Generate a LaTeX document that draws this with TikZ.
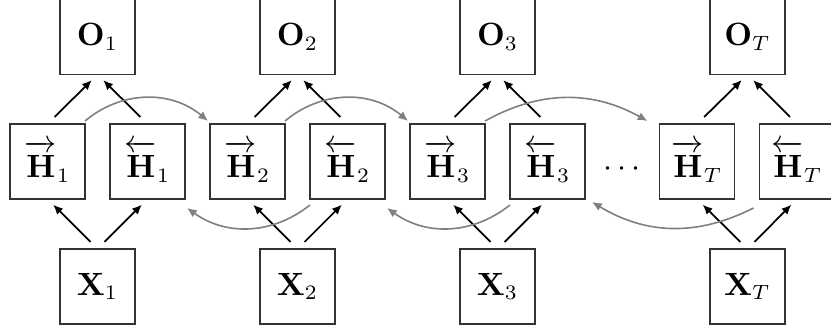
\documentclass[tikz,border=0pt]{standalone}
\usetikzlibrary{arrows.meta}
\newlength\pxu
\setlength\pxu{0.34pt}
\newcommand{\fwd}[1]{\overrightarrow{\mathbf{H}\rule{0pt}{9.6pt}}_{#1}}
\newcommand{\bwd}[1]{\overleftarrow{\mathbf{H}\rule{0pt}{9.6pt}}_{#1}}
\begin{document}
\begin{tikzpicture}[x=\pxu,y=\pxu,
  cell/.style={draw=black!80,line width=0.55pt,minimum width=75\pxu,minimum height=75\pxu,inner sep=0pt,outer sep=0pt,font=\fontsize{10.5}{12}\selectfont},
  feed/.style={-{Latex[length=3.3pt,width=2.9pt]},line width=0.6pt,shorten <=10\pxu,shorten >=8\pxu},
  rec/.style={-{Latex[length=3.3pt,width=2.9pt]},gray,line width=0.55pt}]
\useasboundingbox (0,0) rectangle (831,328);
% outputs
\node[cell] (O1) at (97.5,291) {$\mathbf{O}_1$};
\node[cell] (O2) at (297.5,291) {$\mathbf{O}_2$};
\node[cell] (O3) at (497.5,291) {$\mathbf{O}_3$};
\node[cell] (OT) at (747.5,291) {$\mathbf{O}_T$};
% hidden
\node[cell] (Hf1) at (47.5,166.5) {$\fwd{1}$};
\node[cell] (Hb1) at (147.5,166.5) {$\bwd{1}$};
\node[cell] (Hf2) at (247.5,166.5) {$\fwd{2}$};
\node[cell] (Hb2) at (347.5,166.5) {$\bwd{2}$};
\node[cell] (Hf3) at (447.5,166.5) {$\fwd{3}$};
\node[cell] (Hb3) at (547.5,166.5) {$\bwd{3}$};
\node[anchor=base,inner sep=0pt,font=\fontsize{10.5}{12}\selectfont] (dots) at (622,151) {$\cdots$};
\node[cell] (HfT) at (697,166.5) {$\fwd{T}$};
\node[cell] (HbT) at (797,166.5) {$\bwd{T}$};
% inputs
\node[cell] (X1) at (97.5,41.5) {$\mathbf{X}_1$};
\node[cell] (X2) at (297.5,41.5) {$\mathbf{X}_2$};
\node[cell] (X3) at (497.5,41.5) {$\mathbf{X}_3$};
\node[cell] (XT) at (747.5,41.5) {$\mathbf{X}_T$};
% feed arrows
\foreach \i in {1,2,3,T}{
  \draw[feed] (Hf\i.north) -- (O\i.south);
  \draw[feed] (Hb\i.north) -- (O\i.south);
  \draw[feed] (X\i.north) -- (Hf\i.south);
  \draw[feed] (X\i.north) -- (Hb\i.south);
}
% forward recurrence
\draw[rec] ([yshift=3\pxu]Hf1.north east) to[bend left=40] ([yshift=3\pxu,xshift=-2\pxu]Hf2.north west);
\draw[rec] ([yshift=3\pxu]Hf2.north east) to[bend left=40] ([yshift=3\pxu,xshift=-2\pxu]Hf3.north west);
\draw[rec] ([yshift=3\pxu]Hf3.north east) to[bend left=29] ([yshift=3\pxu,xshift=-12\pxu]HfT.north west);
% backward recurrence
\draw[rec] ([yshift=-6\pxu]Hb2.south west) to[bend left=37] ([yshift=-9\pxu,xshift=2\pxu]Hb1.south east);
\draw[rec] ([yshift=-6\pxu]Hb3.south west) to[bend left=37] ([yshift=-9\pxu,xshift=2\pxu]Hb2.south east);
\draw[rec] ([yshift=-9\pxu,xshift=-6\pxu]HbT.south west) to[bend left=29] ([yshift=-3\pxu,xshift=7\pxu]Hb3.south east);
\end{tikzpicture}
\end{document}
